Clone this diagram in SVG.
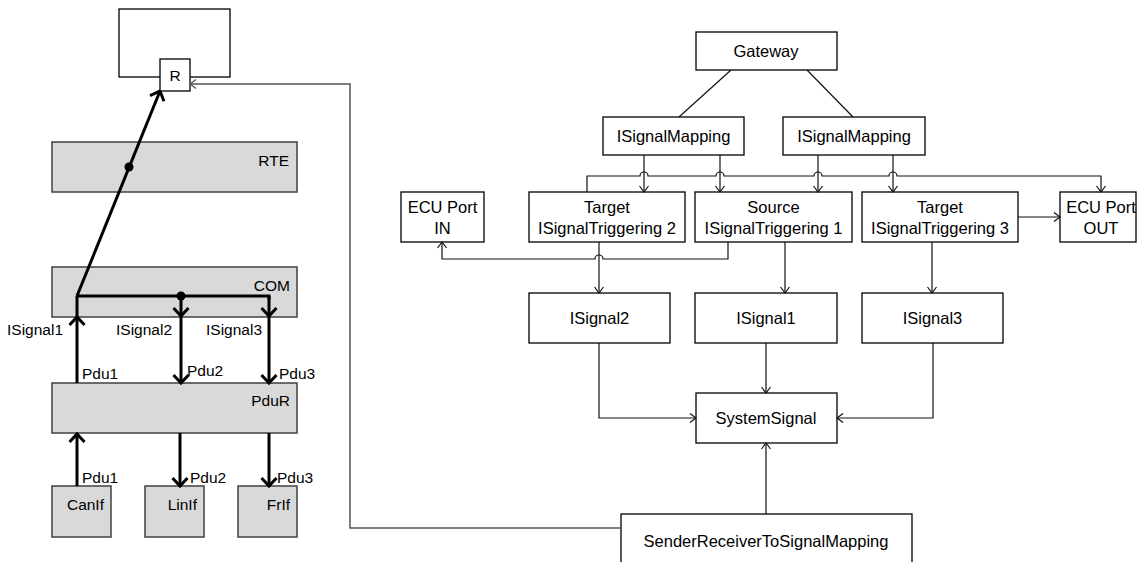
<svg xmlns="http://www.w3.org/2000/svg" width="1137" height="562" viewBox="0 0 1137 562">
<style>
.box{fill:#fff;stroke:#000;stroke-width:1.3}
.gbox{fill:#d9d9d9;stroke:#404040;stroke-width:1.5}
.t{font-family:"Liberation Sans",Arial,sans-serif;font-size:16.5px;fill:#000}
.tl{font-family:"Liberation Sans",Arial,sans-serif;font-size:15.5px;fill:#000}
.c{text-anchor:middle}
.e{text-anchor:end}
.thin{fill:none;stroke:#111;stroke-width:1.2}
.gray{fill:none;stroke:#555;stroke-width:1.5}
.thick{fill:none;stroke:#000;stroke-width:3}
</style>
<defs>
<marker id="a" markerUnits="userSpaceOnUse" markerWidth="14" markerHeight="14" viewBox="-8 -7 10 14" refX="0" refY="0" orient="auto">
<path d="M-6,-4.5 L0,0 L-6,4.5" fill="none" stroke="#111" stroke-width="1.2"/>
</marker>
<marker id="g" markerUnits="userSpaceOnUse" markerWidth="14" markerHeight="14" viewBox="-8 -7 10 14" refX="0" refY="0" orient="auto">
<path d="M-6,-4.5 L0,0 L-6,4.5" fill="none" stroke="#555" stroke-width="1.3"/>
</marker>
<marker id="b" markerUnits="userSpaceOnUse" markerWidth="22" markerHeight="22" viewBox="-11 -11 14 22" refX="0" refY="0" orient="auto">
<path d="M-8,-7.5 L0,0 L-8,7.5" fill="none" stroke="#000" stroke-width="3"/>
</marker>
</defs>

<!-- left nodes -->
<g id="swc"><rect class="box" x="119" y="9" width="111" height="68"/></g>
<g id="rte"><rect class="gbox" x="52" y="142" width="245" height="50"/><text class="tl e" x="289" y="166">RTE</text></g>
<g id="com"><rect class="gbox" x="52" y="267" width="245" height="50"/><text class="tl e" x="290" y="291">COM</text></g>
<g id="pdur"><rect class="gbox" x="52" y="383" width="245" height="50"/><text class="tl e" x="290" y="406">PduR</text></g>
<g id="canif"><rect class="gbox" x="52" y="486" width="59" height="51"/><text class="tl e" x="104" y="510">CanIf</text></g>
<g id="linif"><rect class="gbox" x="145" y="486" width="59" height="51"/><text class="tl e" x="197" y="510">LinIf</text></g>
<g id="frif"><rect class="gbox" x="238" y="486" width="59" height="51"/><text class="tl e" x="290" y="510">FrIf</text></g>

<!-- left connectors -->
<g id="left-connectors">
<path class="thick" d="M77,296 L160,91" marker-end="url(#b)"/>
<circle cx="129" cy="167" r="4.5" fill="#000"/>
<path class="thick" d="M77,296 H269 V300"/>
<circle cx="181" cy="296" r="4.5" fill="#000"/>
<path class="thick" d="M181,296 V316" marker-end="url(#b)"/>
<path class="thick" d="M181,316 V383" marker-end="url(#b)"/>
<path class="thick" d="M269,296 V316" marker-end="url(#b)"/>
<path class="thick" d="M269,316 V383" marker-end="url(#b)"/>
<path class="thick" d="M77,383 V317" marker-end="url(#b)"/>
<path class="thick" d="M77,317 V296"/>
<path class="thick" d="M77,486 V434" marker-end="url(#b)"/>
<path class="thick" d="M180,433 V486" marker-end="url(#b)"/>
<path class="thick" d="M269,433 V486" marker-end="url(#b)"/>
<text class="tl" x="7" y="335">ISignal1</text>
<text class="tl" x="116" y="335">ISignal2</text>
<text class="tl" x="206" y="335">ISignal3</text>
<text class="tl" x="82" y="379">Pdu1</text>
<text class="tl" x="187" y="376">Pdu2</text>
<text class="tl" x="279" y="379">Pdu3</text>
<text class="tl" x="82" y="483">Pdu1</text>
<text class="tl" x="190" y="483">Pdu2</text>
<text class="tl" x="277" y="483">Pdu3</text>
</g>
<g id="rport"><rect class="box" x="160" y="59" width="30" height="32"/><text class="tl c" x="175" y="81">R</text></g>

<!-- right nodes -->
<g id="gateway"><rect class="box" x="696" y="32" width="141" height="38"/><text class="t c" x="766" y="57">Gateway</text></g>
<g id="ism1"><rect class="box" x="603" y="117" width="141" height="38"/><text class="t c" x="673.5" y="142">ISignalMapping</text></g>
<g id="ism2"><rect class="box" x="783" y="117" width="142" height="38"/><text class="t c" x="854" y="142">ISignalMapping</text></g>
<g id="ecuin"><rect class="box" x="401" y="192" width="83" height="50"/><text class="t c" x="442.5" y="212.5">ECU Port</text><text class="t c" x="442.5" y="234">IN</text></g>
<g id="trig2"><rect class="box" x="529" y="192" width="156" height="50"/><text class="t c" x="607" y="212.5">Target</text><text class="t c" x="607" y="234">ISignalTriggering 2</text></g>
<g id="trig1"><rect class="box" x="695" y="192" width="157" height="50"/><text class="t c" x="773.5" y="212.5">Source</text><text class="t c" x="773.5" y="234">ISignalTriggering 1</text></g>
<g id="trig3"><rect class="box" x="862" y="192" width="156" height="50"/><text class="t c" x="940" y="212.5">Target</text><text class="t c" x="940" y="234">ISignalTriggering 3</text></g>
<g id="ecuout"><rect class="box" x="1060" y="192" width="76" height="50"/><text class="t c" x="1101" y="212.5">ECU Port</text><text class="t c" x="1101" y="234">OUT</text></g>
<g id="isig2"><rect class="box" x="529" y="293" width="141" height="50"/><text class="t c" x="599.5" y="324">ISignal2</text></g>
<g id="isig1"><rect class="box" x="695" y="293" width="142" height="50"/><text class="t c" x="766" y="324">ISignal1</text></g>
<g id="isig3"><rect class="box" x="862" y="293" width="141" height="50"/><text class="t c" x="932.5" y="324">ISignal3</text></g>
<g id="syssig"><rect class="box" x="696" y="393" width="141" height="50"/><text class="t c" x="766" y="424">SystemSignal</text></g>
<g id="srmap"><rect class="box" x="621" y="514" width="291" height="60"/><text class="t c" x="766" y="547">SenderReceiverToSignalMapping</text></g>

<!-- right connectors -->
<g id="connectors">
<path class="thin" d="M731,70 L679,117"/>
<path class="thin" d="M807,70 L853,117"/>
<path class="thin" d="M644,155 V192" marker-end="url(#a)"/>
<path class="thin" d="M720,155 V192" marker-end="url(#a)"/>
<path class="thin" d="M818,155 V192" marker-end="url(#a)"/>
<path class="thin" d="M893,155 V192" marker-end="url(#a)"/>
<path class="thin" d="M587,192 V176 H640 A4,4 0 0 1 648,176 H716 A4,4 0 0 1 724,176 H814 A4,4 0 0 1 822,176 H889 A4,4 0 0 1 897,176 H1101 V192" marker-end="url(#a)"/>
<path class="thin" d="M1018,217 H1060" marker-end="url(#a)"/>
<path class="thin" d="M728,242 V259 H603 A4,4 0 0 0 595,259 H442 V242" marker-end="url(#a)"/>
<path class="thin" d="M599,242 V293" marker-end="url(#a)"/>
<path class="thin" d="M785,242 V293" marker-end="url(#a)"/>
<path class="thin" d="M932,242 V293" marker-end="url(#a)"/>
<path class="thin" d="M599,343 V418 H696" marker-end="url(#a)"/>
<path class="thin" d="M766,343 V393" marker-end="url(#a)"/>
<path class="thin" d="M933,343 V418 H837" marker-end="url(#a)"/>
<path class="thin" d="M766,514 V443" marker-end="url(#a)"/>
<path class="gray" d="M621,528 H350 V84 H190" marker-end="url(#g)"/>
</g>
</svg>
